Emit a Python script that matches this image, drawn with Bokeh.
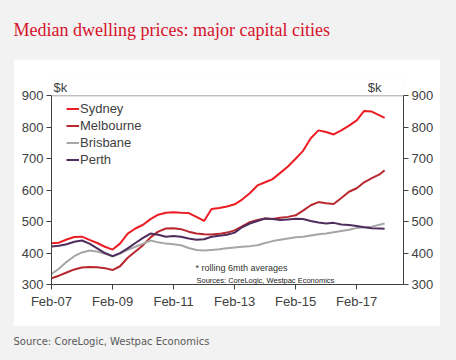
import pandas as pd
from bokeh.plotting import figure
from bokeh.layouts import column
from bokeh.models import (Range1d, LinearAxis, FixedTicker, DatetimeTickFormatter,
                          Label, Span, Legend, LegendItem)
from bokeh.embed import file_html
from bokeh.resources import INLINE

# ---------------- data ($k) ----------------
dates = ["2007-02", "2007-05", "2007-08", "2007-11", "2008-02", "2008-05", "2008-08", "2008-11",
         "2009-02", "2009-05", "2009-08", "2009-11", "2010-02", "2010-05", "2010-08", "2010-11",
         "2011-02", "2011-05", "2011-08", "2011-11", "2012-02", "2012-05", "2012-08", "2012-11",
         "2013-02", "2013-05", "2013-08", "2013-11", "2014-02", "2014-05", "2014-08", "2014-11",
         "2015-02", "2015-05", "2015-08", "2015-11", "2016-02", "2016-05", "2016-08", "2016-11",
         "2017-02", "2017-05", "2017-08", "2017-11", "2018-01"]
sydney = [431, 433, 443, 451, 452, 442, 432, 420,
          411, 430, 462, 478, 490, 508, 522, 528,
          530, 528, 527, 515, 502, 540, 543, 548,
          555, 570, 590, 615, 625, 635, 655, 675,
          700, 725, 765, 790, 785, 777, 790, 805,
          822, 852, 850, 838, 830]
melbourne = [320, 328, 338, 348, 354, 356, 355, 352,
             346, 358, 385, 405, 425, 450, 468, 478,
             479, 476, 468, 462, 460, 459, 461, 465,
             472, 485, 498, 505, 510, 508, 512, 515,
             520, 535, 552, 562, 558, 556, 575, 595,
             606, 625, 638, 650, 663]
brisbane = [334, 350, 372, 390, 402, 408, 405, 398,
            389, 398, 410, 420, 430, 440, 434, 430,
            428, 425, 416, 410, 408, 410, 412, 415,
            418, 420, 422, 425, 432, 438, 442, 446,
            450, 452, 456, 460, 462, 466, 470, 474,
            480, 482, 484, 490, 494]
perth = [421, 423, 428, 436, 440, 430, 415, 400,
         390, 400, 415, 432, 448, 462, 458, 452,
         454, 452, 446, 442, 444, 452, 455, 458,
         465, 482, 494, 502, 510, 508, 505, 507,
         509, 508, 502, 497, 494, 496, 491, 489,
         486, 482, 479, 478, 477]

series_names = ["Sydney", "Melbourne", "Brisbane", "Perth"]
series_values = [sydney, melbourne, brisbane, perth]
series_colors = ["#ec1c24", "#b8282e", "#a6a6a6", "#4f2d5c"]

x_ticks = ["2007-02-01", "2009-02-01", "2011-02-01", "2013-02-01", "2015-02-01", "2017-02-01"]
y_ticks = [300, 400, 500, 600, 700, 800, 900]

title_text = "Median dwelling prices: major capital cities"
source_text = "Source: CoreLogic, Westpac Economics"
note_text = "* rolling 6mth averages"
note_source = "Sources: CoreLogic, Westpac Economics"
unit_text = "$k"

GREY_BG = "#f2f2f2"
FONT = "Liberation Sans"
TXT = "#404040"


def ms(s):
    return pd.Timestamp(s).value // 10**6


def text_strip(height, text, x, y, size, color, font):
    f = figure(width=456, height=height, output_backend="svg", toolbar_location=None,
               x_axis_type=None, y_axis_type=None,
               x_range=Range1d(0, 456), y_range=Range1d(height, 0),
               min_border_left=0, min_border_right=0, min_border_top=0, min_border_bottom=0,
               border_fill_color=GREY_BG, background_fill_color=GREY_BG,
               frame_align=False)
    f.outline_line_color = None
    f.grid.visible = False
    f.add_layout(Label(x=x, y=y, text=text, text_font=font,
                       text_font_size=size, text_color=color, text_align="left",
                       text_baseline="alphabetic"))
    return f


# ---------------- title strip ----------------
p_title = text_strip(59, title_text, 13, 29, "18px", "#d6112a", "Liberation Serif")

# ---------------- main chart (white panel) ----------------
x = pd.to_datetime(dates)
p = figure(width=427, height=267, output_backend="svg", toolbar_location=None,
           x_axis_type="datetime",
           x_range=Range1d(ms("2007-02-01"), ms("2018-08-15")),
           y_range=Range1d(300, 955),
           min_border_left=38, min_border_right=37, min_border_top=19, min_border_bottom=42,
           margin=(0, 16, 0, 13), frame_align=False)
p.border_fill_color = "white"
p.background_fill_color = "white"
p.outline_line_color = None
p.grid.visible = False

p.add_layout(Span(location=900, dimension="width", line_color="#a6a6a6", line_width=1))


def style_axis(ax):
    ax.axis_line_color = "#404040"
    ax.axis_line_width = 1
    ax.major_tick_line_color = "#404040"
    ax.major_tick_in = 0
    ax.major_tick_out = 5
    ax.minor_tick_line_color = None
    ax.major_label_text_font = FONT
    ax.major_label_text_font_size = "13px"
    ax.major_label_text_color = TXT


xa = p.xaxis[0]
xa.ticker = FixedTicker(ticks=[ms(t) for t in x_ticks])
xa.formatter = DatetimeTickFormatter(years="%b-%y", months="%b-%y", days="%b-%y")
xa.major_label_standoff = 4
style_axis(xa)

ya = p.yaxis[0]
ya.ticker = FixedTicker(ticks=y_ticks)
ya.bounds = (300, 900)
ya.major_label_standoff = 3
style_axis(ya)

yr = LinearAxis(ticker=FixedTicker(ticks=y_ticks), bounds=(300, 900))
yr.major_label_standoff = 3
style_axis(yr)
p.add_layout(yr, "right")

items = []
for name, vals, col in zip(series_names, series_values, series_colors):
    r = p.line(x, vals, line_color=col, line_width=2)
    items.append(LegendItem(label=name, renderers=[r]))

leg = Legend(items=items, location=(15, 116), orientation="vertical",
             background_fill_alpha=0, border_line_color=None,
             padding=0, margin=0, spacing=0,
             glyph_width=13, glyph_height=17, label_height=17, label_standoff=1,
             label_text_font=FONT, label_text_font_size="13px", label_text_color=TXT)
p.add_layout(leg)


def lab(text, sx, y, size, color=TXT, font=FONT, style="normal", align="left"):
    p.add_layout(Label(x=sx, y=y, x_units="screen", y_units="data", text=text,
                       text_font=font, text_font_size=size, text_color=color,
                       text_font_style=style, text_align=align, text_baseline="middle"))


lab(unit_text, 2, 926, "13px")
lab(unit_text, 330, 926, "13px", align="right")
lab(note_text, 144, 351, "9px", color="#333333")
lab(note_source, 145, 313, "7.5px", color="#222222")

# ---------------- source strip ----------------
p_source = text_strip(34, source_text, 13, 15, "10px", "#595959", "DejaVu Sans")

layout = column(p_title, p, p_source, spacing=0, styles={"background-color": GREY_BG})

open("out.html", "w").write(file_html(layout, INLINE))
